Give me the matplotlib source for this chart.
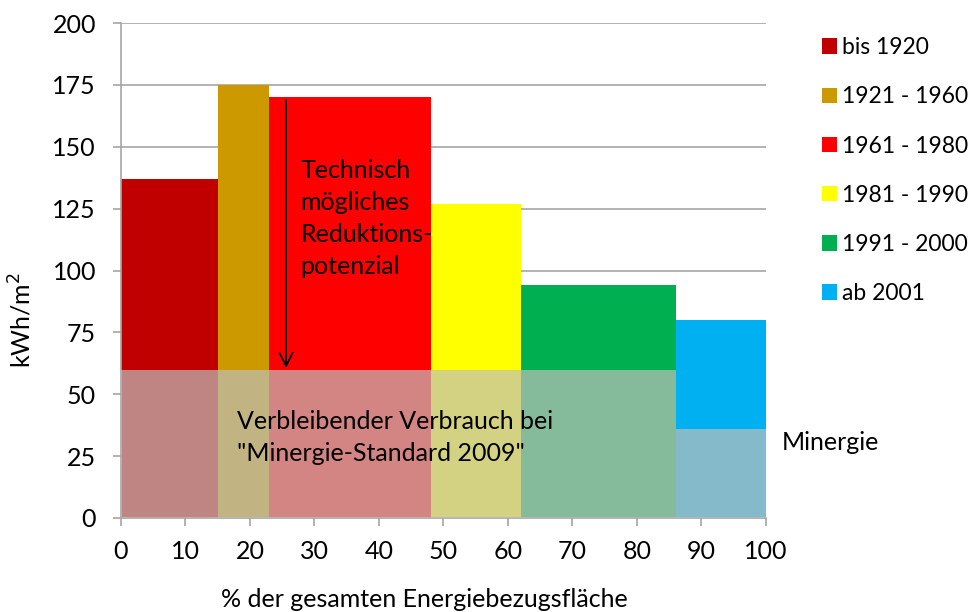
import matplotlib
matplotlib.use("Agg")
import matplotlib.pyplot as plt
from matplotlib.patches import Patch

plt.rcParams['font.family'] = ['Lato', 'DejaVu Sans']

categories = ["bis 1920", "1921 - 1960", "1961 - 1980", "1981 - 1990", "1991 - 2000", "ab 2001"]
starts = [0, 15, 23, 48, 62, 86]
widths = [15, 8, 25, 14, 24, 14]
values = [137, 175, 170, 127, 94, 80]
colors = ["#C00000", "#CC9900", "#FF0000", "#FFFF00", "#00B050", "#00B0F0"]

minergie_std_2009 = 60
minergie_std_2009_span = (0, 86)
minergie = 36
minergie_span = (86, 100)

FS = 18

fig = plt.figure(figsize=(9.74, 6.12), dpi=100)
ax = fig.add_axes([0.1242, 0.1536, 0.6622, 0.8088])

ax.set_axisbelow(True)
ax.yaxis.grid(True, color="#A6A6A6", linewidth=1.2)

ax.bar(starts, values, width=widths, align='edge', color=colors, linewidth=0, zorder=2)

overlay_color = (191/255, 191/255, 186/255)
ax.bar(minergie_std_2009_span[0], minergie_std_2009,
       width=minergie_std_2009_span[1] - minergie_std_2009_span[0],
       align='edge', color=overlay_color, alpha=0.7, linewidth=0, zorder=3)
ax.bar(minergie_span[0], minergie, width=minergie_span[1] - minergie_span[0],
       align='edge', color=overlay_color, alpha=0.7, linewidth=0, zorder=3)

ax.annotate("", xy=(25.6, 59.5), xytext=(25.6, 170),
            arrowprops=dict(arrowstyle="->", color="black", lw=1.2, mutation_scale=24), zorder=5)

ax.text(27.8, 145, "Technisch\nmögliches\nReduktions-\npotenzial", fontsize=FS,
        va='top', ha='left', linespacing=1.48, zorder=6)
ax.text(18, 32.5, "Verbleibender Verbrauch bei\n\"Minergie-Standard 2009\"", fontsize=FS,
        va='center', ha='left', linespacing=1.45, zorder=6)
ax.text(102.5, 30.5, "Minergie", fontsize=FS, va='center', ha='left', clip_on=False, zorder=6)

ax.set_xlim(0, 100)
ax.set_ylim(0, 200)
ax.set_xticks(range(0, 101, 10))
ax.set_yticks(range(0, 201, 25))
ax.tick_params(axis='both', labelsize=FS, color="#A6A6A6", length=6, width=1.2)
ax.tick_params(axis='x', pad=10)
ax.tick_params(axis='y', pad=12)

for s in ["top", "right"]:
    ax.spines[s].set_visible(False)
for s in ["left", "bottom"]:
    ax.spines[s].set_color("#A6A6A6")
    ax.spines[s].set_linewidth(1.2)

ax.set_xlabel("% der gesamten Energiebezugsfläche", fontsize=FS)
ax.xaxis.set_label_coords(0.47, -0.142)
ax.set_ylabel("kWh/m$^2$", fontsize=FS)
ax.yaxis.set_label_coords(-0.133, 0.40)

handles = [Patch(facecolor=c, edgecolor='none') for c in colors]
leg = fig.legend(handles, categories, loc='upper left', bbox_to_anchor=(0.823, 0.973),
                 frameon=False, fontsize=16.5, handlelength=0.66, handleheight=0.66,
                 handletextpad=0.22, labelspacing=1.23)

fig.savefig("out.png", dpi=100)
